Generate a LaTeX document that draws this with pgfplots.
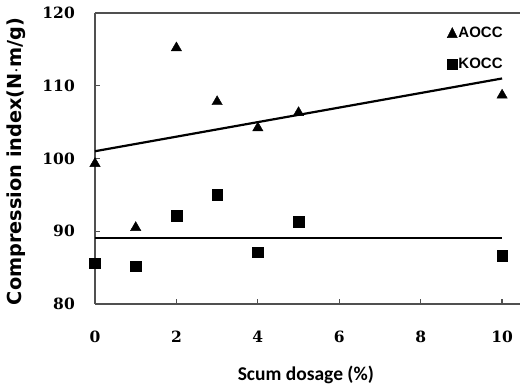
\documentclass[border=0pt]{standalone}
\usepackage{pgfplots}
\pgfplotsset{compat=1.18}
\usepackage{fontspec}
\setmainfont{Liberation Sans}
\newfontfamily\tickfont{DejaVu Serif}
\newfontfamily\ylabfont{DejaVu Sans}
\newfontfamily\xlabfont{Carlito}
\newfontfamily\legfont{Liberation Sans}
\definecolor{axisgray}{HTML}{505050}
\begin{document}
\begin{tikzpicture}
\begin{axis}[
  name=ax,
  scale only axis,
  width=425pt, height=291pt,
  xmin=0, xmax=10.44,
  ymin=80, ymax=120,
  axis lines=left,
  axis line style={axisgray, line width=1.6pt, -},
  xtick={0,2,4,6,8,10},
  ytick={80,90,100,110,120},
  tick align=inside,
  major tick length=5pt,
  tick style={axisgray, line width=1.2pt},
  /pgf/number format/assume math mode=true,
  tick label style={font=\tickfont\bfseries\fontsize{15.5}{18}\selectfont},
  xticklabel style={anchor=center, yshift=-33pt},
  yticklabel style={anchor=east, inner sep=0pt, xshift=-20pt},
  xlabel={Scum dosage (\%)},
  xlabel style={font=\xlabfont\bfseries\fontsize{19.5}{24}\selectfont, at={(axis description cs:0.496,-0.244)}, anchor=center},
  ylabel={Compression index(N$\cdot$m/g)},
  ylabel style={font=\ylabfont\bfseries\fontsize{19.3}{22}\selectfont, at={(axis description cs:-0.185,0.49)}, anchor=center},
  clip=false,
  legend style={draw=none, fill=none, at={(axis description cs:0.962,0.955)}, anchor=north east,
    font=\legfont\bfseries\fontsize{15}{18}\selectfont, row sep=17pt, inner sep=0pt,
    nodes={inner sep=1pt}},
  legend cell align=left,
]
\addplot[only marks, mark=triangle*, mark size=6pt, black,
  legend image code/.code={\fill[black] (-5pt,-4.3pt) -- (5pt,-4.3pt) -- (0pt,5.7pt) -- cycle;}] coordinates {
  (0,99.3) (1,90.5) (2,115.2) (3,107.8) (4,104.2) (5,106.3) (10,108.7)};
\addlegendentry{AOCC}
\addplot[only marks, mark=square*, mark size=5.3pt, black,
  legend image code/.code={\fill[black] (-4.8pt,-4.8pt) rectangle (4.8pt,4.8pt);}] coordinates {
  (0,85.6) (1,85.2) (2,92.1) (3,95.0) (4,87.1) (5,91.3) (10,86.6)};
\addlegendentry{KOCC}
\addplot[black, line width=2.2pt, forget plot] coordinates {(0,101.0) (10,111.0)};
\addplot[black, line width=2.2pt, forget plot] coordinates {(0,89.05) (10,89.05)};
\draw[axisgray, line width=1.6pt] (rel axis cs:0,1) -- (rel axis cs:1,1);
\end{axis}
\pgfresetboundingbox
\path ([xshift=-95pt,yshift=-85pt]ax.south west) rectangle ([yshift=13pt]ax.north east);
\end{tikzpicture}
\end{document}
